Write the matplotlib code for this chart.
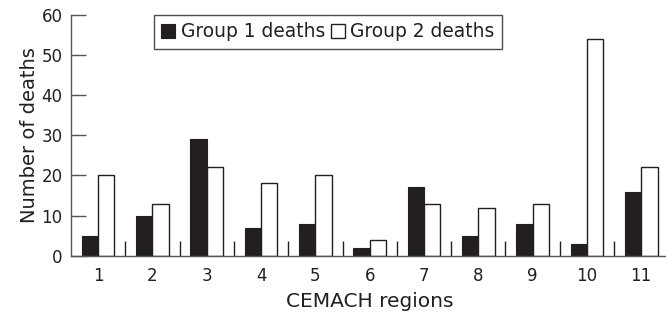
import matplotlib
matplotlib.use("Agg")
import matplotlib.pyplot as plt
import numpy as np

regions = ["1", "2", "3", "4", "5", "6", "7", "8", "9", "10", "11"]
group1 = [5, 10, 29, 7, 8, 2, 17, 5, 8, 3, 16]
group2 = [20, 13, 22, 18, 20, 4, 13, 12, 13, 54, 22]
yticks = [0, 10, 20, 30, 40, 50, 60]

plt.rcParams['font.family'] = ['DejaVu Sans']
fig = plt.figure(figsize=(6.66, 3.14), dpi=100)
ax = fig.add_axes([0.1066, 0.1857, 0.897, 0.7665])

x = np.arange(1, len(regions) + 1)
w = 0.30
grey = '#555555'
ax.bar(x - w/2, group1, w, color='#231f20', edgecolor='#231f20', linewidth=0.8, label='Group 1 deaths')
ax.bar(x + w/2, group2, w, color='white', edgecolor='#231f20', linewidth=1.0, label='Group 2 deaths')

ax.set_xlim(0.5, 11.5)
ax.set_ylim(0, 60)
ax.set_yticks(yticks)
ax.set_xticks(x)
ax.set_xticklabels(regions)
ax.set_xticks(np.arange(1.5, 11.5, 1), minor=True)
ax.tick_params(axis='x', which='major', length=0, pad=8, labelsize=12, colors='#231f20')
ax.tick_params(axis='x', which='minor', direction='in', length=11, width=1, color='#231f20')
ax.tick_params(axis='y', direction='in', length=11, width=1, color=grey, pad=6, labelsize=12, labelcolor='#231f20')
for s in ['top', 'right']:
    ax.spines[s].set_visible(False)
for s in ['left', 'bottom']:
    ax.spines[s].set_color(grey)
    ax.spines[s].set_linewidth(1)

ax.set_xlabel('CEMACH regions', fontsize=14.5, color='#231f20', labelpad=5)
ax.set_ylabel('Number of deaths', fontsize=14, color='#231f20', labelpad=2)

leg = ax.legend(loc='upper left', bbox_to_anchor=(0.139, 1.0), ncol=2, frameon=True, fancybox=False,
                edgecolor='#231f20', fontsize=13.4, handlelength=0.75, handleheight=0.75,
                handletextpad=0.3, columnspacing=0.3, borderpad=0.4, borderaxespad=0)
leg.get_frame().set_linewidth(1)
for t in leg.get_texts():
    t.set_color('#231f20')

fig.savefig('out.png', dpi=100)
